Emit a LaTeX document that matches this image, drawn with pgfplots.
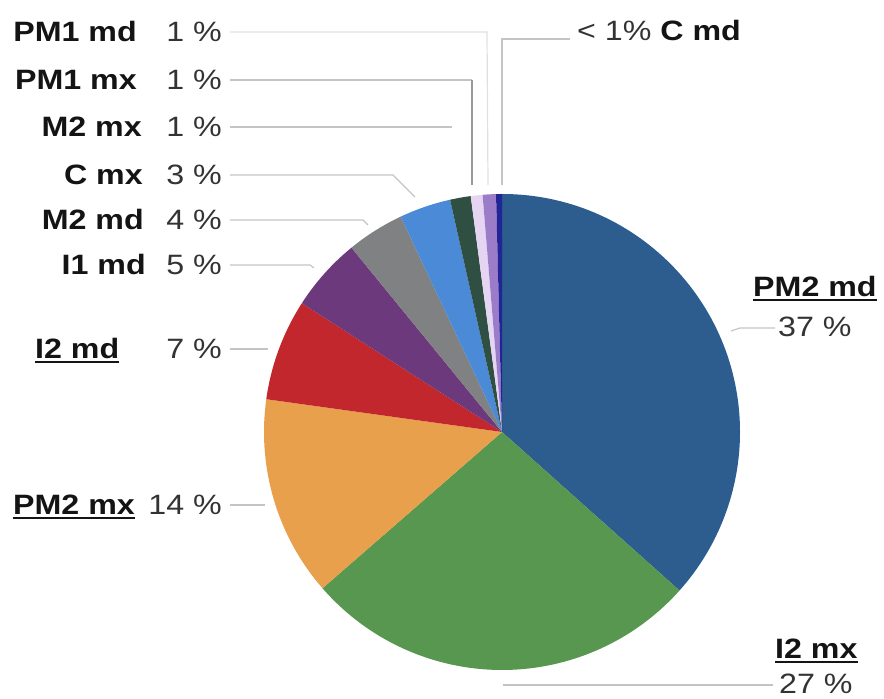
\documentclass[border=0pt]{standalone}
\usepackage{pgfplots}
\pgfplotsset{compat=1.18}
\usepackage{fontspec}
\setmainfont{Liberation Sans}[FakeStretch=1.15]
\definecolor{cA}{HTML}{2D5D8E}
\definecolor{cB}{HTML}{58974F}
\definecolor{cC}{HTML}{E9A04C}
\definecolor{cD}{HTML}{C1272D}
\definecolor{cE}{HTML}{6C3A7C}
\definecolor{cF}{HTML}{7F8182}
\definecolor{cG}{HTML}{4A8AD6}
\definecolor{cH}{HTML}{2F4F42}
\definecolor{cI}{HTML}{E5D5F2}
\definecolor{cJ}{HTML}{9A7CC9}
\definecolor{cK}{HTML}{232596}
\definecolor{nm}{HTML}{141414}
\definecolor{pc}{HTML}{333333}
\definecolor{ld}{HTML}{C4C4C4}
\newcommand\ul[1]{\setbox0\hbox{#1}\rlap{\rule[-4pt]{\wd0}{2pt}}\box0}
\begin{document}
\begin{tikzpicture}
\begin{axis}[x=1pt,y=1pt,xmin=0,xmax=884,ymin=0,ymax=699,hide axis,clip=false,
  nodes={font=\fontsize{28}{32}\selectfont}]
% slice shares (percent), clockwise from 12 o'clock
\def\cum{0}
\foreach \v/\c in {36.6/cA,27.0/cB,13.6/cC,6.9/cD,5.0/cE,3.9/cF,3.5/cG,1.4/cH,0.8/cI,0.9/cJ,0.4/cK}{
  \pgfmathsetmacro\as{90-3.6*\cum}
  \pgfmathsetmacro\ae{90-3.6*(\cum+\v)}
  \pgfmathsetmacro\nc{\cum+\v}
  \edef\temp{\noexpand\fill[\c] (axis cs:502,267) -- ++(\as:238pt) arc[start angle=\as, end angle=\ae, radius=238pt] -- cycle;}
  \temp
  \xdef\cum{\nc}
}
% leader lines
\draw[color=black!12, line width=1.2pt] (axis cs:230,667) -- (axis cs:487,667) -- (axis cs:488,514);
\draw[color=ld, line width=1.2pt] (axis cs:570,660) -- (axis cs:502,660) -- (axis cs:502,514);
\draw[color=ld, line width=1.2pt] (axis cs:230,619) -- (axis cs:472,619);
\draw[color=black!40, line width=1.4pt] (axis cs:472,619) -- (axis cs:472,514);
\draw[color=ld, line width=1.2pt] (axis cs:230,572) -- (axis cs:452,572);
\draw[color=ld, line width=1.2pt] (axis cs:230,524) -- (axis cs:393,524) -- (axis cs:415,502);
\draw[color=ld, line width=1.2pt] (axis cs:230,479) -- (axis cs:363,479) -- (axis cs:368,474);
\draw[color=ld, line width=1.2pt] (axis cs:230,434) -- (axis cs:310,434) -- (axis cs:314,431);
\draw[color=ld, line width=1.2pt] (axis cs:230,350) -- (axis cs:268,350);
\draw[color=ld, line width=1.2pt] (axis cs:230,194) -- (axis cs:265,194);
\draw[color=ld, line width=1.2pt] (axis cs:731,368) -- (axis cs:740,371) -- (axis cs:775,371);
\draw[color=ld, line width=1.2pt] (axis cs:503,14) -- (axis cs:773,14);
% names
\node[anchor=base east, inner sep=0pt, text=nm] at (axis cs:137,657) {\bfseries PM1 md};
\node[anchor=base east, inner sep=0pt, text=nm] at (axis cs:137,609) {\bfseries PM1 mx};
\node[anchor=base east, inner sep=0pt, text=nm] at (axis cs:142,562) {\bfseries M2 mx};
\node[anchor=base east, inner sep=0pt, text=nm] at (axis cs:143,514) {\bfseries C mx};
\node[anchor=base east, inner sep=0pt, text=nm] at (axis cs:144,469) {\bfseries M2 md};
\node[anchor=base east, inner sep=0pt, text=nm] at (axis cs:146,424) {\bfseries I1 md};
\node[anchor=base west, inner sep=0pt, text=nm] at (axis cs:35,340) {\ul{\bfseries I2 md}};
\node[anchor=base west, inner sep=0pt, text=nm] at (axis cs:13,184) {\ul{\bfseries PM2 mx}};
\node[anchor=base west, inner sep=0pt, text=nm] at (axis cs:753,402) {\ul{\bfseries PM2 md}};
\node[anchor=base west, inner sep=0pt, text=nm] at (axis cs:775,40) {\ul{\bfseries I2 mx}};
% percentages
\node[anchor=base east, inner sep=0pt, text=pc] at (axis cs:222,657) {1 \%};
\node[anchor=base east, inner sep=0pt, text=pc] at (axis cs:222,609) {1 \%};
\node[anchor=base east, inner sep=0pt, text=pc] at (axis cs:222,562) {1 \%};
\node[anchor=base east, inner sep=0pt, text=pc] at (axis cs:222,514) {3 \%};
\node[anchor=base east, inner sep=0pt, text=pc] at (axis cs:222,469) {4 \%};
\node[anchor=base east, inner sep=0pt, text=pc] at (axis cs:222,424) {5 \%};
\node[anchor=base east, inner sep=0pt, text=pc] at (axis cs:222,340) {7 \%};
\node[anchor=base east, inner sep=0pt, text=pc] at (axis cs:222,184) {14 \%};
\node[anchor=base west, inner sep=0pt, text=pc] at (axis cs:778,362) {37 \%};
\node[anchor=base west, inner sep=0pt, text=pc] at (axis cs:779,5) {27 \%};
\node[anchor=base west, inner sep=0pt, text=pc] at (axis cs:577,658) {< 1\% {\color{nm}\bfseries C md}};
\end{axis}
\pgfresetboundingbox
\useasboundingbox (0,0) rectangle (884pt,699pt);
\end{tikzpicture}
\end{document}
